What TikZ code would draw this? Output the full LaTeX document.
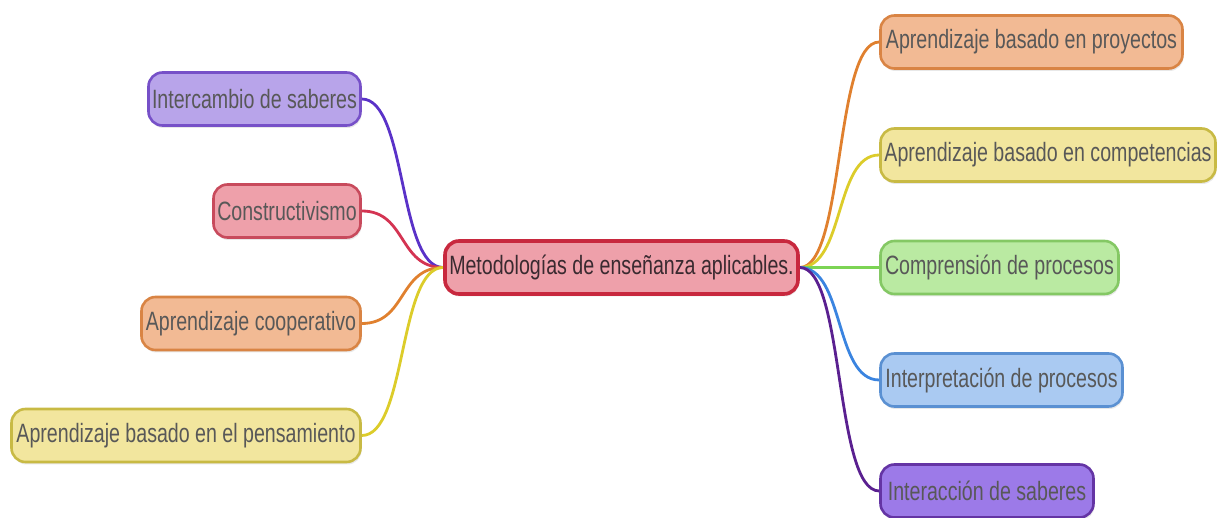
\documentclass[tikz,border=0pt]{standalone}
\usepackage{fontspec}
\setmainfont[FakeStretch=0.74]{Liberation Sans}
\usetikzlibrary{shadows,backgrounds}
\definecolor{txt}{HTML}{585858}
\definecolor{ctxt}{HTML}{3A2A30}
\definecolor{purF}{HTML}{B8A4EA}\definecolor{purD}{HTML}{7650C8}\definecolor{purL}{HTML}{5A32C8}
\definecolor{redF}{HTML}{EEA0AA}\definecolor{redD}{HTML}{C84A5C}\definecolor{redL}{HTML}{D43452}
\definecolor{cenD}{HTML}{C8283E}
\definecolor{oraF}{HTML}{F2BA94}\definecolor{oraD}{HTML}{D98444}\definecolor{oraL}{HTML}{E0802E}
\definecolor{yelF}{HTML}{F2E69E}\definecolor{yelD}{HTML}{C8BA44}\definecolor{yelL}{HTML}{DCCC2A}
\definecolor{greF}{HTML}{BAEAA2}\definecolor{greD}{HTML}{84C864}\definecolor{greL}{HTML}{7CD454}
\definecolor{bluF}{HTML}{AACAF2}\definecolor{bluD}{HTML}{5A90D2}\definecolor{bluL}{HTML}{3A84E0}
\definecolor{vioF}{HTML}{9C7AE8}\definecolor{vioD}{HTML}{6434A4}\definecolor{vioL}{HTML}{5A2090}
\begin{document}
\begin{tikzpicture}[x=1pt,y=-1pt,
  box/.style={rounded corners=14pt, line width=2.6pt, minimum height=53pt,
    inner xsep=2pt, inner ysep=0pt, text=txt,
    font=\fontsize{26.5}{30}\selectfont,
    drop shadow={opacity=0.18, shadow xshift=1pt, shadow yshift=-2.5pt}},
  central/.style={box, line width=3.6pt, text=ctxt},
  link/.style={line width=2.8pt, line cap=round}]
\useasboundingbox (0,0) rectangle (1219,518);
% central
\node[central, fill=redF, draw=cenD, minimum width=353pt] (c) at (621.5,267.5) {Metodologías de enseñanza aplicables.};
% left
\node[box, fill=purF, draw=purD, minimum width=212pt] (l1) at (254.5,99) {Intercambio de saberes};
\node[box, fill=redF, draw=redD, minimum width=147pt] (l2) at (287,211) {Constructivismo};
\node[box, fill=oraF, draw=oraD, minimum width=219pt] (l3) at (251,323.5) {Aprendizaje cooperativo};
\node[box, fill=yelF, draw=yelD, minimum width=349pt] (l4) at (186,435.5) {Aprendizaje basado en el pensamiento};
% right
\node[box, fill=oraF, draw=oraD, minimum width=302pt] (r1) at (1031.5,42) {Aprendizaje basado en proyectos};
\node[box, fill=yelF, draw=yelD, minimum width=335pt] (r2) at (1048,155) {Aprendizaje basado en competencias};
\node[box, fill=greF, draw=greD, minimum width=238pt] (r3) at (999.5,267.5) {Comprensión de procesos};
\node[box, fill=bluF, draw=bluD, minimum width=242pt] (r4) at (1001.5,380) {Interpretación de procesos};
\node[box, fill=vioF, draw=vioD, minimum width=213pt] (r5) at (987,491) {Interacción de saberes};
% links
\begin{pgfonlayer}{background}
\draw[link, purL] (c.west) .. controls +(-45,0) and +(45,0) .. (l1.east);
\draw[link, redL] (c.west) .. controls +(-45,0) and +(45,0) .. (l2.east);
\draw[link, oraL] (c.west) .. controls +(-45,0) and +(45,0) .. (l3.east);
\draw[link, yelL] (c.west) .. controls +(-45,0) and +(45,0) .. (l4.east);
\draw[link, oraL] (c.east) .. controls +(45,0) and +(-45,0) .. (r1.west);
\draw[link, yelL] (c.east) .. controls +(45,0) and +(-45,0) .. (r2.west);
\draw[link, greL] (c.east) -- (r3.west);
\draw[link, bluL] (c.east) .. controls +(45,0) and +(-45,0) .. (r4.west);
\draw[link, vioL] (c.east) .. controls +(45,0) and +(-45,0) .. (r5.west);
\end{pgfonlayer}
\end{tikzpicture}
\end{document}
